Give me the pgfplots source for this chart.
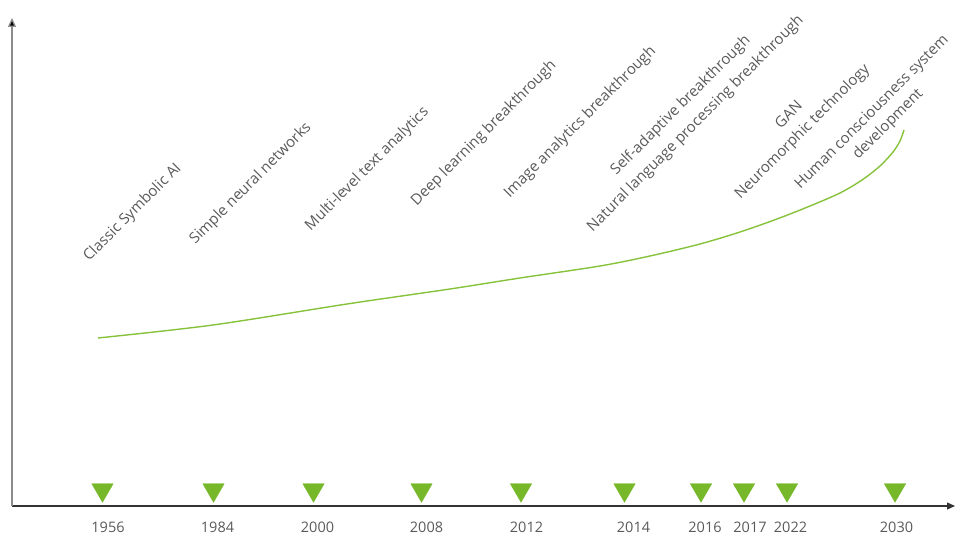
\documentclass[border=0pt]{standalone}
\usepackage{pgfplots}
\pgfplotsset{compat=1.18}
\usetikzlibrary{arrows.meta}
\usepackage{fontspec}
\setmainfont{Open Sans}
\definecolor{tgreen}{RGB}{118,184,42}
\definecolor{cgreen}{RGB}{134,194,58}
\definecolor{lab}{RGB}{90,90,90}
\begin{document}
\begin{tikzpicture}
\begin{axis}[
  x=1pt, y=1pt,
  xmin=12, xmax=955, ymin=31, ymax=519,
  axis lines=left,
  clip=false,
  x axis line style={draw=black!80, line width=1.1pt, -{Triangle[length=8pt,width=7pt]}},
  y axis line style={draw=black!45, line width=1.3pt, -{Triangle[length=9pt,width=8pt,fill=black]}},
  ytick=\empty,
  xtick={108,217.5,317.5,426.5,526.5,633.5,705,750,790.5,896.5},
  xticklabels={1956,1984,2000,2008,2012,2014,2016,2017,2022,2030},
  major tick length=0pt,
  xticklabel style={font=\fontsize{14.5}{17}\selectfont, text=lab, yshift=-12pt},
  /pgf/number format/assume math mode=true,
]
\addplot[cgreen, line width=1.4pt, smooth, tension=0.5] coordinates {
(98,199) (213,212) (347,233) (450,248) (520,259) (600,271) (650,281) (700,293) (740,305)
(777,318) (810,331) (840,344) (862,357) (880,371) (893,385) (900,396) (904,407)};
\addplot[only marks, mark=triangle*, mark size=12.5pt,
  mark options={rotate=180, fill=tgreen, draw=tgreen, line width=0.1pt}] coordinates {
(102.5,47) (213.5,47) (313.5,47) (421.5,47) (521,47) (624.5,47)
(701,47) (744,47) (787,47) (895,47)};
\begin{scope}[every node/.style={rotate=45, anchor=base, text=lab, font=\fontsize{15}{18}\selectfont, inner sep=0pt}]
\node at (axis cs:135.5,321.5) {Classic Symbolic AI};
\node at (axis cs:253.5,350.5) {Simple neural networks};
\node at (axis cs:370,365) {Multi-level text analytics};
\node at (axis cs:486.8,400.8) {Deep learning breakthrough};
\node at (axis cs:583,412) {Image analytics breakthrough};
\node at (axis cs:683.6,428.6) {Self-adaptive breakthrough};
\node at (axis cs:698.4,410.4) {Natural language processing breakthrough};
\node at (axis cs:792,419) {GAN};
\node at (axis cs:805.4,402.4) {Neuromorphic technology};
\node at (axis cs:874.8,421.8) {Human consciousness system};
\node at (axis cs:891,410) {development};
\end{scope}
\coordinate (BL) at (axis cs:0,0);
\coordinate (TR) at (axis cs:957,537);
\end{axis}
\pgfresetboundingbox
\path (BL) rectangle (TR);
\end{tikzpicture}
\end{document}
